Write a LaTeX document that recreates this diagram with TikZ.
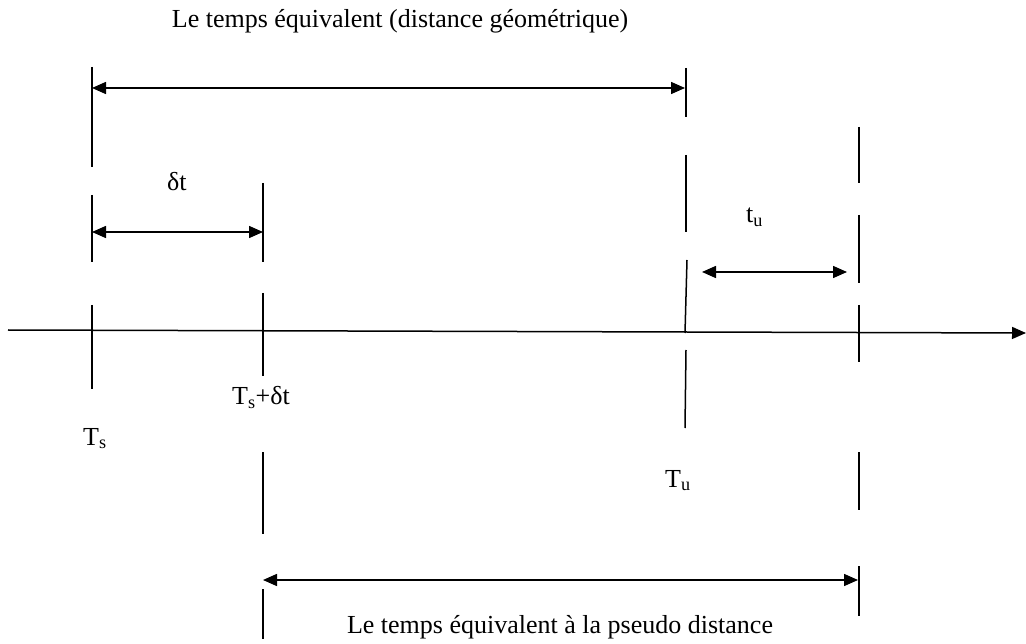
\documentclass[tikz,border=0pt]{standalone}
\usepackage{fontspec}
\setmainfont{Liberation Serif}
\usetikzlibrary{arrows.meta,positioning}

\tikzset{
  trait/.style={line width=1.5pt},
  cote/.style={line width=1.5pt,{Triangle[length=14pt,width=12pt]}-{Triangle[length=14pt,width=12pt]}},
  etiq/.style={font=\fontsize{26}{30}\selectfont,inner sep=0pt,anchor=base west},
}

\begin{document}
\begin{tikzpicture}[x=1pt,y=-1pt]
  \useasboundingbox (0,0) rectangle (1026,644);
  % axe des temps
  \coordinate (axeA) at (8,330);
  \coordinate (axeB) at (1026,333);
  \draw[trait,-{Triangle[length=14pt,width=12pt]}] (axeA) -- (axeB);
  % traits verticaux (interrompus)
  \foreach \a/\b in {67/167,195/262,305/389} \draw[trait] (92,\a) -- (92,\b);
  \foreach \a/\b in {183/262,293/376,452/534,589/639} \draw[trait] (263,\a) -- (263,\b);
  \foreach \a/\b/\c/\d in {686/68/686/117,686/155/686/232,687/260/685/333,686/350/685/428}
    \draw[trait] (\a,\b) -- (\c,\d);
  \foreach \a/\b in {127/183,215/283,305/362,452/510,566/616} \draw[trait] (859,\a) -- (859,\b);
  % cotes
  \coordinate (geoG) at (92,88);   \coordinate (geoD) at (685,88);
  \coordinate (dtG) at (92,232);   \coordinate (dtD) at (263,232);
  \coordinate (tuG) at (702,272);  \coordinate (tuD) at (847,272);
  \coordinate (psG) at (263,580);  \coordinate (psD) at (858,580);
  \draw[cote] (geoG) -- (geoD);
  \draw[cote] (dtG) -- (dtD);
  \draw[cote] (tuG) -- (tuD);
  \draw[cote] (psG) -- (psD);
  % textes
  \node[etiq,anchor=base] (titre) at (400,28) {Le temps équivalent (distance géométrique)};
  \node[etiq] (dt) at (167,191) {δt};
  \node[etiq] (tu) at (746,223) {t\textsubscript{u}};
  \node[etiq] (Ts) at (83,445) {T\textsubscript{s}};
  \node[etiq] (Tsdt) at (232,405) {T\textsubscript{s}+δt};
  \node[etiq] (Tu) at (665,487) {T\textsubscript{u}};
  \node[etiq,anchor=base] (pseudo) at (560,633) {Le temps équivalent à la pseudo distance};
\end{tikzpicture}
\end{document}
